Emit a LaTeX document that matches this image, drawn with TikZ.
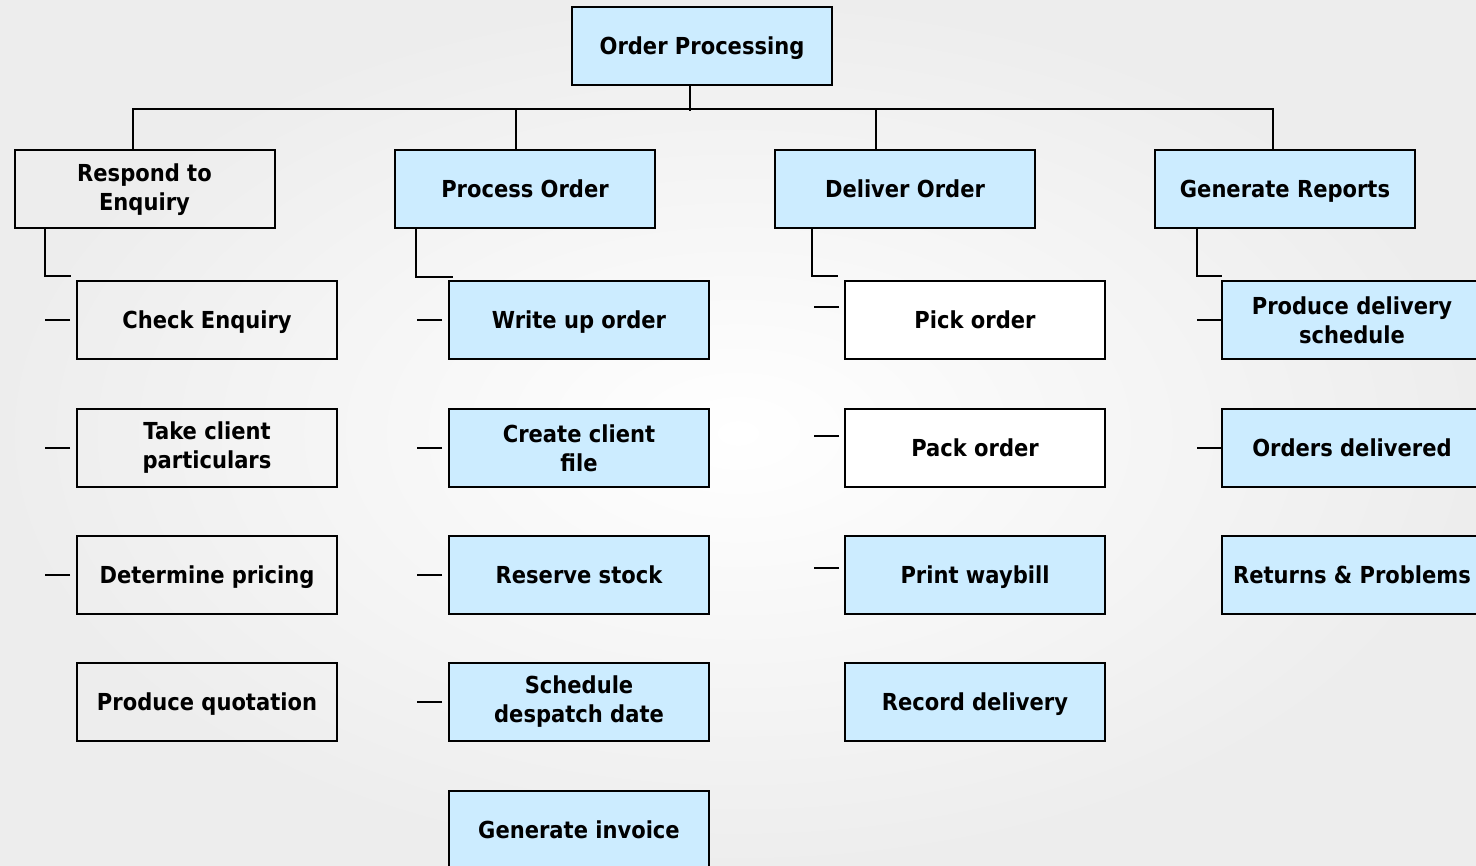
\documentclass[tikz,border=0pt]{standalone}
\usepackage{fontspec}
\setmainfont{DejaVu Sans}[FakeStretch=0.9]
\definecolor{taskblue}{RGB}{204,236,255}

\begin{document}
\begin{tikzpicture}[
	x=1pt, y=-1pt,
	task/.style = {draw, line width=2pt, minimum width=260pt, minimum height=78pt,
		       inner sep=2pt, align=center, text height=17pt, text depth=0pt,
		       font=\bfseries\fontsize{23.4}{29}\selectfont},
	twoline/.style = {text height={}, text depth={}},
	bluetask/.style = {task, fill=taskblue},
	whitetask/.style = {task, fill=white},
	link/.style = {line width=2pt},
]
	\shade [inner color=white, outer color=black!7] (0,0) rectangle (1476,866);
	\useasboundingbox (0,0) rectangle (1476,866);

	% top and second level
	\node [bluetask] (top) at (702,46) {Order Processing};
	\node [task, twoline] (respond) at (144.5,189.5) {Respond to\\Enquiry};
	\node [bluetask] (process) at (525,189.5) {Process Order};
	\node [bluetask] (deliver) at (905,189.5) {Deliver Order};
	\node [bluetask] (reports) at (1285,189.5) {Generate Reports};

	% respond to enquiry
	\node [task] (check) at (207,320.5) {Check Enquiry};
	\node [task, twoline] (client) at (207,448) {Take client\\particulars};
	\node [task] (pricing) at (207,575) {Determine pricing};
	\node [task] (quote) at (207,702) {Produce quotation};

	% process order
	\node [bluetask] (writeup) at (579,320.5) {Write up order};
	\node [bluetask, twoline] (file) at (579,448) {Create client\\file};
	\node [bluetask] (stock) at (579,575) {Reserve stock};
	\node [bluetask, twoline] (despatch) at (579,702) {Schedule\\despatch date};
	\node [bluetask] (invoice) at (579,829.5) {Generate invoice};

	% deliver order
	\node [whitetask] (pick) at (975,320.5) {Pick order};
	\node [whitetask] (pack) at (975,448) {Pack order};
	\node [bluetask] (waybill) at (975,575) {Print waybill};
	\node [bluetask] (record) at (975,702) {Record delivery};

	% generate reports
	\node [bluetask, twoline] (schedule) at (1352,320.5) {Produce delivery\\schedule};
	\node [bluetask] (delivered) at (1352,448) {Orders delivered};
	\node [bluetask] (returns) at (1352,575) {Returns \& Problems};

	% tree lines
	\draw [link] ([xshift=-12pt]top.south) -- ++(0,25);
	\draw [link] ([xshift=-11.5pt]respond.north) -- ++(0,-40) -| ([xshift=-12pt]reports.north);
	\draw [link] ([xshift=-9pt]process.north) -- ++(0,-40);
	\draw [link] ([xshift=-29pt]deliver.north) -- ++(0,-40);

	\draw [link] ([xshift=31pt]respond.south west) |- ++(26,47);
	\draw [link] ([xshift=22pt]process.south west) |- ++(37,48);
	\draw [link] ([xshift=38pt]deliver.south west) |- ++(26,47);
	\draw [link] ([xshift=43pt]reports.south west) |- ++(25,47);

	\foreach \n in {check, client, pricing, writeup, file, stock, despatch}
		\draw [link] ([xshift=-6pt]\n.west) -- ++(-25,0);
	\foreach \n/\dy in {pick/13.5, pack/12, waybill/7}
		\draw [link] ([xshift=-5pt, yshift=\dy pt]\n.west) -- ++(-25,0);
	\foreach \n in {schedule, delivered}
		\draw [link] (\n.west) -- ++(-24,0);
\end{tikzpicture}
\end{document}
